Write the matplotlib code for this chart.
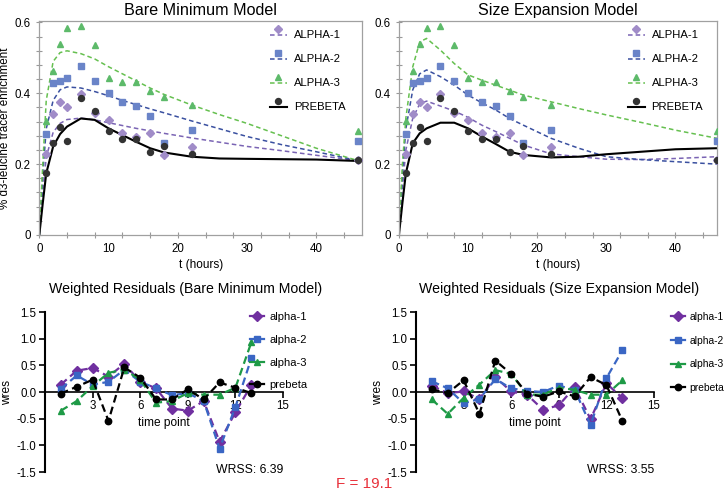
import numpy as np
import matplotlib
matplotlib.use("Agg")
import matplotlib.pyplot as plt
from matplotlib.lines import Line2D
from matplotlib.legend_handler import HandlerLine2DCompound
from matplotlib.ticker import MultipleLocator, FixedLocator

plt.rcParams['font.family'] = ['Liberation Sans', 'DejaVu Sans']
plt.rcParams['axes.unicode_minus'] = False

# ---------------------------------------------------------------
# observed enrichment (same data in both models)
# ---------------------------------------------------------------
t_obs = [1, 2, 3, 4, 6, 8, 10, 12, 14, 16, 18, 22, 46]
alpha1_obs = [0.229, 0.343, 0.376, 0.362, 0.397, 0.345, 0.326, 0.287, 0.276, 0.287, 0.227, 0.249, 0.212]
alpha2_obs = [0.284, 0.428, 0.434, 0.444, 0.477, 0.435, 0.402, 0.375, 0.365, 0.336, 0.259, 0.297, 0.264]
alpha3_obs = [0.322, 0.463, 0.538, 0.583, 0.590, 0.536, 0.444, 0.432, 0.431, 0.407, 0.390, 0.367, 0.293]
prebeta_obs = [0.176, 0.259, 0.306, 0.266, 0.386, 0.350, 0.294, 0.272, 0.270, 0.235, 0.251, 0.228, 0.212]

# ---------------------------------------------------------------
# model curves
# ---------------------------------------------------------------
t_fit = [0, 0.5, 1, 2, 3, 4, 6, 8, 10, 12, 14, 16, 18, 22, 26, 30, 35, 40, 46]
bare_alpha1 = [0, 0.12, 0.22, 0.29, 0.315, 0.326, 0.330, 0.325, 0.317, 0.309, 0.301, 0.294, 0.287, 0.274, 0.262, 0.250, 0.238, 0.225, 0.210]
bare_alpha2 = [0, 0.17, 0.30, 0.38, 0.410, 0.418, 0.415, 0.405, 0.393, 0.380, 0.368, 0.356, 0.345, 0.322, 0.300, 0.278, 0.255, 0.235, 0.210]
bare_alpha3 = [0, 0.20, 0.38, 0.49, 0.515, 0.520, 0.512, 0.497, 0.475, 0.455, 0.435, 0.415, 0.397, 0.367, 0.340, 0.315, 0.280, 0.245, 0.210]
bare_prebeta = [0, 0.09, 0.174, 0.25, 0.285, 0.306, 0.329, 0.325, 0.301, 0.282, 0.263, 0.245, 0.233, 0.221, 0.216, 0.215, 0.214, 0.213, 0.209]

size_alpha1 = [0, 0.13, 0.24, 0.33, 0.370, 0.378, 0.364, 0.350, 0.332, 0.310, 0.292, 0.273, 0.254, 0.229, 0.221, 0.214, 0.213, 0.216, 0.221]
size_alpha2 = [0, 0.17, 0.30, 0.41, 0.455, 0.466, 0.447, 0.423, 0.395, 0.373, 0.353, 0.329, 0.310, 0.273, 0.245, 0.221, 0.213, 0.207, 0.200]
size_alpha3 = [0, 0.20, 0.33, 0.475, 0.545, 0.555, 0.522, 0.484, 0.452, 0.437, 0.423, 0.409, 0.395, 0.376, 0.357, 0.339, 0.318, 0.296, 0.273]
size_prebeta = [0, 0.09, 0.174, 0.259, 0.287, 0.301, 0.317, 0.317, 0.301, 0.278, 0.257, 0.235, 0.226, 0.219, 0.221, 0.228, 0.235, 0.242, 0.245]

# ---------------------------------------------------------------
# weighted residuals
# ---------------------------------------------------------------
time_point = list(range(1, 14))
bare_wres_a1 = [0.14, 0.40, 0.45, 0.29, 0.53, 0.19, 0.07, -0.31, -0.35, -0.17, -0.93, -0.38, 0.13]
bare_wres_a2 = [0.06, 0.31, 0.14, 0.19, 0.42, 0.19, 0.07, -0.06, -0.02, -0.17, -1.06, -0.28, 0.63]
bare_wres_a3 = [-0.35, -0.17, 0.11, 0.36, 0.42, 0.23, -0.20, -0.17, -0.02, -0.05, -0.05, 0.08, 0.93]
bare_wres_pb = [-0.03, 0.10, 0.23, -0.54, 0.46, 0.27, -0.14, -0.14, 0.05, -0.14, 0.18, 0.08, -0.02]

size_wres_a1 = [0.12, -0.02, 0.01, -0.13, 0.28, 0.01, -0.05, -0.33, -0.25, 0.09, -0.51, 0.16, -0.11]
size_wres_a2 = [0.20, 0.07, -0.21, -0.13, 0.24, 0.07, 0.02, 0.00, 0.12, 0.04, -0.62, 0.26, 0.78]
size_wres_a3 = [-0.14, -0.41, -0.11, 0.14, 0.41, 0.34, -0.05, -0.05, 0.08, 0.04, -0.05, -0.05, 0.22]
size_wres_pb = [0.05, -0.02, 0.22, -0.41, 0.59, 0.34, -0.03, -0.09, 0.01, -0.08, 0.28, 0.13, -0.54]

series_names = ['ALPHA-1', 'ALPHA-2', 'ALPHA-3', 'PREBETA']
wres_names = ['alpha-1', 'alpha-2', 'alpha-3', 'prebeta']
wrss_values = [6.39, 3.55]
f_value = 19.1

# styles
pt_colors = ['#a08cc8', '#6a84c8', '#5dba6a', '#333333']
fit_colors = ['#7a64b4', '#3a50a0', '#66c050', '#000000']
pt_markers = ['D', 's', '^', 'o']
pt_sizes = [4.0, 4.5, 5.0, 4.3]
res_colors = ['#7030a0', '#3a66c4', '#1e9a46', '#000000']
res_sizes = [4.6, 4.6, 5.0, 4.6]


class MarkerAbove(HandlerLine2DCompound):
    # prism style legend: marker sits above the line sample
    def create_artists(self, legend, orig_handle, xdescent, ydescent,
                       width, height, fontsize, trans):
        line, marker = super().create_artists(legend, orig_handle, xdescent, ydescent,
                                              width, height, fontsize, trans)
        line.set_ydata(np.asarray(line.get_ydata()) - 0.25 * fontsize)
        marker.set_ydata(np.asarray(marker.get_ydata()) + 0.3 * fontsize)
        return [line, marker]


def draw_model(ax, title, fits, legend_x):
    obs = [alpha1_obs, alpha2_obs, alpha3_obs, prebeta_obs]
    handles = []
    for i in range(4):
        ls = '-' if i == 3 else (0, (3, 2))
        lw = 1.5 if i == 3 else 1.1
        ax.plot(t_fit, fits[i], color=fit_colors[i], ls=ls, lw=lw, zorder=2)
        ax.plot(t_obs, obs[i], ls='none', marker=pt_markers[i], ms=pt_sizes[i],
                color=pt_colors[i], mec=pt_colors[i], zorder=3)
        handles.append(Line2D([], [], color=fit_colors[i], ls=ls, lw=lw,
                              marker=pt_markers[i], ms=pt_sizes[i],
                              mfc=pt_colors[i], mec=pt_colors[i]))
    ax.set_xlim(0, 46.6)
    ax.set_ylim(0, 0.605)
    ax.xaxis.set_major_locator(FixedLocator([0, 10, 20, 30, 40]))
    ax.xaxis.set_minor_locator(MultipleLocator(4))
    ax.yaxis.set_major_locator(FixedLocator([0, 0.2, 0.4, 0.6]))
    ax.set_yticklabels(['0', '0.2', '0.4', '0.6'])
    ax.yaxis.set_minor_locator(MultipleLocator(0.04))
    ax.xaxis.remove_overlapping_locs = False
    ax.yaxis.remove_overlapping_locs = False
    ax.tick_params(which='major', length=0, labelsize=8.3, pad=6)
    ax.tick_params(which='minor', direction='inout', length=4, color='#999999', width=0.8)
    for s in ax.spines.values():
        s.set_color('#a0a0a0')
        s.set_linewidth(0.9)
    ax.set_title(title, fontsize=11.6, pad=4)
    ax.set_xlabel('t (hours)', fontsize=8.6, labelpad=3)
    leg = ax.legend(handles, series_names, handler_map={Line2D: MarkerAbove()},
                    loc='upper left', bbox_to_anchor=(legend_x, 0.975), frameon=False,
                    fontsize=8.1, handlelength=1.5, handleheight=2.0,
                    handletextpad=0.6, labelspacing=0.58, borderpad=0, borderaxespad=0)
    return leg


def draw_wres(ax, title, title_x, res, wrss, legend_x, legend_fs):
    handles = []
    for i in range(4):
        ax.plot(time_point, res[i], color=res_colors[i], ls=(0, (3.5, 2)), lw=1.6,
                marker=pt_markers[i], ms=res_sizes[i], mec=res_colors[i], zorder=3)
        handles.append(Line2D([], [], color=res_colors[i], lw=1.6,
                              marker=pt_markers[i], ms=res_sizes[i]))
    ax.set_xlim(0, 15)
    ax.set_ylim(-1.5, 1.5)
    ax.set_xticks([3, 6, 9, 12, 15])
    ax.set_yticks([-1.5, -1.0, -0.5, 0.0, 0.5, 1.0, 1.5])
    ax.set_yticklabels(['%.1f' % v for v in [-1.5, -1.0, -0.5, 0.0, 0.5, 1.0, 1.5]])
    ax.spines['top'].set_visible(False)
    ax.spines['right'].set_visible(False)
    ax.spines['bottom'].set_position(('data', 0))
    ax.spines['left'].set_linewidth(1.5)
    ax.spines['bottom'].set_linewidth(1.2)
    ax.tick_params(direction='out', length=4, width=1.2, labelsize=8.3, pad=2)
    ax.set_xlabel('time point', fontsize=8.6, labelpad=3)
    ax.set_ylabel('wres', fontsize=8.6, labelpad=3)
    ax.text(title_x, 1.119, title, transform=ax.transAxes, ha='center', va='baseline',
            fontsize=10.2)
    ax.text(15, -1.47, 'WRSS: %.2f' % wrss, ha='right', va='center', fontsize=8.8)
    # row pitch in the reference is about 23 px whatever the font size
    fpx = legend_fs * 100 / 72
    ax.legend(handles, wres_names, loc='upper left', bbox_to_anchor=(legend_x, 1.0),
              frameon=False, fontsize=legend_fs, handlelength=1.3, handletextpad=0.45,
              labelspacing=(23 - 0.92 * fpx) / fpx,
              borderpad=0, borderaxespad=0)


fig = plt.figure(figsize=(7.28, 4.94), dpi=100)
ax1 = fig.add_axes([0.054, 0.5243, 0.4433, 0.4338])
ax2 = fig.add_axes([0.548, 0.5243, 0.4368, 0.4338])
ax3 = fig.add_axes([0.0618, 0.0445, 0.327, 0.3239])
ax4 = fig.add_axes([0.5714, 0.0445, 0.327, 0.3239])

draw_model(ax1, 'Bare Minimum Model', [bare_alpha1, bare_alpha2, bare_alpha3, bare_prebeta], 0.715)
draw_model(ax2, 'Size Expansion Model', [size_alpha1, size_alpha2, size_alpha3, size_prebeta], 0.72)
ax2.set_xlim(0, 46)
ax1.set_ylabel('% d3-leucine tracer enrichment', fontsize=8.4, labelpad=3)

draw_wres(ax3, 'Weighted Residuals (Bare Minimum Model)', 0.592,
          [bare_wres_a1, bare_wres_a2, bare_wres_a3, bare_wres_pb], wrss_values[0], 0.861, 8.0)
draw_wres(ax4, 'Weighted Residuals (Size Expansion Model)', 0.599,
          [size_wres_a1, size_wres_a2, size_wres_a3, size_wres_pb], wrss_values[1], 1.072, 7.4)

fig.text(0.5, 0.02, 'F = %.1f' % f_value, color='#e8303a', fontsize=11, ha='center', va='center')

fig.savefig('out.png', dpi=100)
